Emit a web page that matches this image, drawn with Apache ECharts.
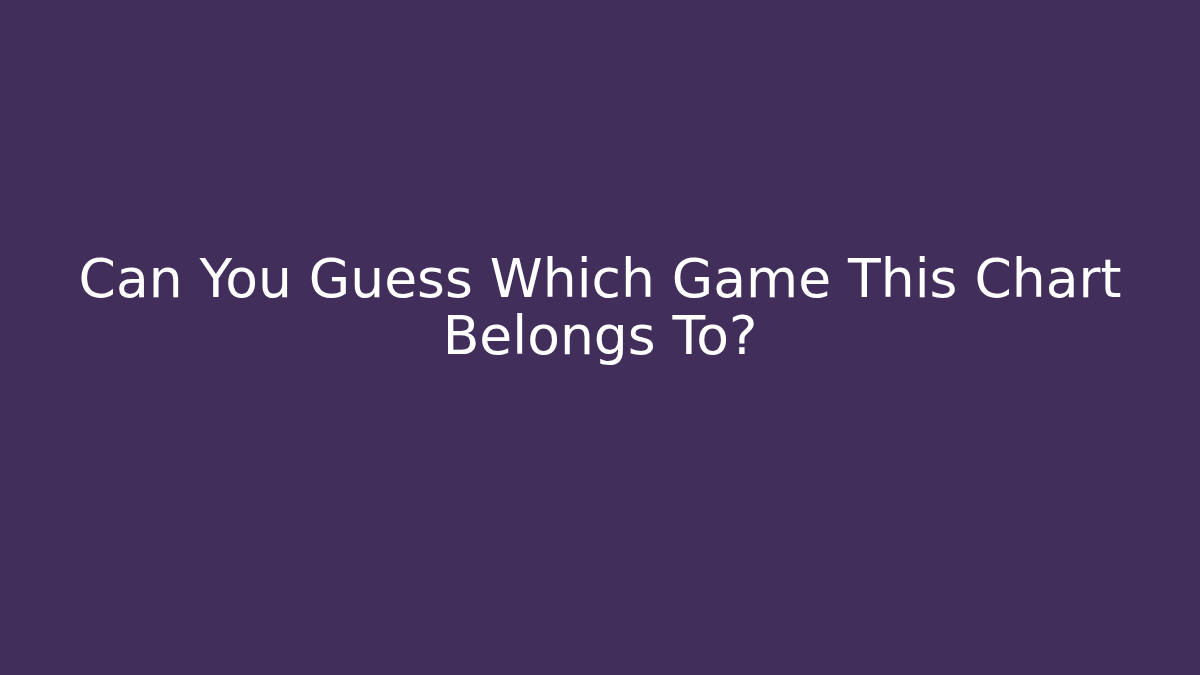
<!DOCTYPE html>
<html>
<head>
<meta charset="utf-8">
<script src="https://cdn.jsdelivr.net/npm/echarts@6/dist/echarts.min.js"></script>
<style>
  html, body { margin: 0; padding: 0; background: #412e5a; }
  #chart { width: 1200px; height: 675px; }
</style>
</head>
<body>
<div id="chart"></div>
<script>
// text lines shown on the card
let titleLines = ['Can You Guess Which Game This Chart', 'Belongs To?'];

let myChart = echarts.init(document.getElementById('chart'));

let option = {
    backgroundColor: '#412e5a',
    animation: false,
    graphic: [
        {
            type: 'text',
            x: 600,
            y: 255,
            style: {
                text: titleLines.join('\n'),
                fill: '#ffffff',
                font: 'normal 53.5px "DejaVu Sans"',
                lineHeight: 57,
                align: 'center',
                verticalAlign: 'top'
            }
        }
    ]
};
myChart.setOption(option);
</script>
</body>
</html>
